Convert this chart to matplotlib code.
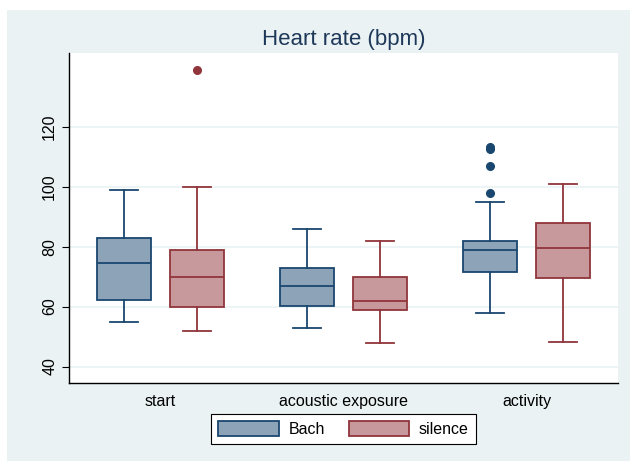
import matplotlib.pyplot as plt
from matplotlib.patches import Rectangle, Patch

# heart rate summary per phase
phases = ["start", "acoustic exposure", "activity"]

bach_low = [55, 53, 58]
bach_q1 = [62.3, 60.3, 71.4]
bach_med = [74.6, 66.9, 78.9]
bach_q3 = [83, 72.9, 81.9]
bach_high = [99, 86, 95]
bach_fliers = [[], [], [98, 107, 112.5, 113.2]]

silence_low = [52, 48, 48.3]
silence_q1 = [60, 59, 69.6]
silence_med = [70, 62, 79.7]
silence_q3 = [79, 70, 87.8]
silence_high = [100, 82, 101]
silence_fliers = [[139], [], []]

navy = "#1a476f"
maroon = "#90353b"
navy_fill = "#8ca3b8"
maroon_fill = "#c8999c"
bg = "#eaf2f3"

plt.rcParams['font.family'] = ['Liberation Sans', 'DejaVu Sans']


def make_stats(low, q1, med, q3, high, fliers):
    stats = []
    for i in range(len(low)):
        stats.append(dict(whislo=low[i], q1=q1[i], med=med[i], q3=q3[i],
                          whishi=high[i], fliers=fliers[i]))
    return stats


fig = plt.figure(figsize=(6.3, 4.61), dpi=100, facecolor="white")
fig.patches.append(Rectangle((7 / 630, 0), 1, 1 - 10 / 461, transform=fig.transFigure,
                             facecolor=bg, edgecolor="none", zorder=-10))
ax = fig.add_axes([69 / 630, 1 - 383 / 461, 549 / 630, 330 / 461])
ax.set_facecolor("white")

groups = [
    (make_stats(bach_low, bach_q1, bach_med, bach_q3, bach_high, bach_fliers), -0.2, navy, navy_fill),
    (make_stats(silence_low, silence_q1, silence_med, silence_q3, silence_high, silence_fliers), 0.2, maroon, maroon_fill),
]
for stats, off, edge, fill in groups:
    pos = [i + off for i in range(len(phases))]
    ax.bxp(stats, positions=pos, widths=0.298, patch_artist=True, capwidths=0.15,
           boxprops=dict(facecolor=fill, edgecolor=edge, linewidth=1.3),
           medianprops=dict(color=edge, linewidth=1.3),
           whiskerprops=dict(color=edge, linewidth=1.3),
           capprops=dict(color=edge, linewidth=1.3),
           flierprops=dict(marker="o", markerfacecolor=edge, markeredgecolor=edge, markersize=5.5),
           manage_ticks=False)

ax.set_xlim(-0.5, 2.5)
ax.set_ylim(34.5, 144.6)
ax.set_yticks([40, 60, 80, 100, 120])
ax.set_xticks(range(len(phases)))
ax.set_xticklabels(phases, fontsize=11.5)
ax.tick_params(axis="x", length=0, pad=8)
ax.tick_params(axis="y", length=5, labelsize=11.5, labelrotation=90)
for lbl in ax.get_yticklabels():
    lbl.set_va("center")
ax.grid(axis="y", color=bg, linewidth=1.2)
ax.set_axisbelow(True)
for s in ["top", "right"]:
    ax.spines[s].set_visible(False)
ax.spines["left"].set_linewidth(1.0)
ax.spines["bottom"].set_linewidth(1.0)

ax.set_title("Heart rate (bpm)", fontsize=16, color="#1e3859", pad=6)

handles = [Patch(facecolor=navy_fill, edgecolor=navy, linewidth=1.3, label="Bach"),
           Patch(facecolor=maroon_fill, edgecolor=maroon, linewidth=1.3, label="silence")]
leg = fig.legend(handles=handles, loc="center", bbox_to_anchor=(343.5 / 630, 1 - 429 / 461),
                 ncol=2, fontsize=11.5, fancybox=False, edgecolor="black", framealpha=1,
                 handlelength=3.8, handleheight=1.05, handletextpad=0.6,
                 columnspacing=1.5, borderpad=0.45, borderaxespad=0)
leg.get_frame().set_linewidth(0.8)

plt.savefig("out.png", dpi=100)
